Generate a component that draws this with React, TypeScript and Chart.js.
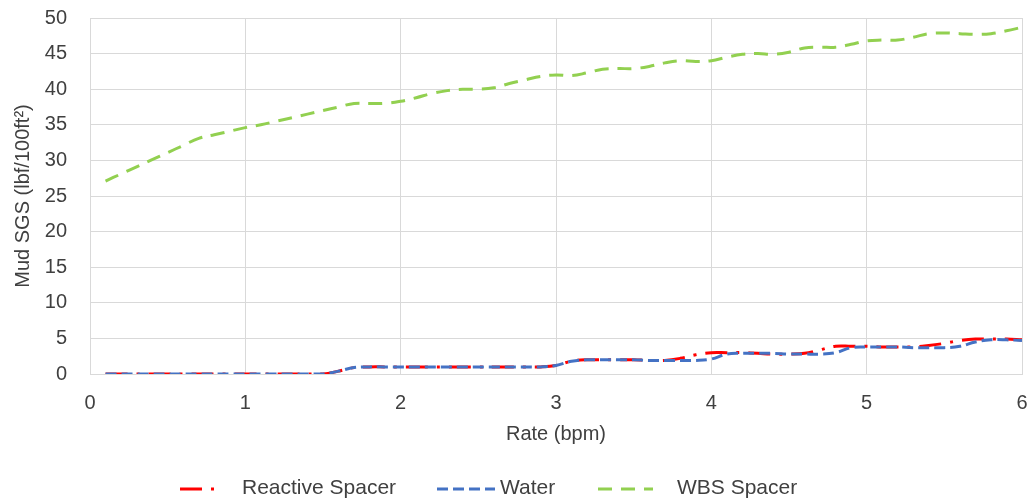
import { useEffect, useRef } from 'react';
import { Chart, registerables } from 'chart.js';

Chart.register(...registerables);

const rate = [
  0.1, 0.2, 0.3, 0.4, 0.5, 0.6, 0.7, 0.8, 0.9, 1.0,
  1.1, 1.2, 1.3, 1.4, 1.5, 1.6, 1.7, 1.8, 1.9, 2.0,
  2.1, 2.2, 2.3, 2.4, 2.5, 2.6, 2.7, 2.8, 2.9, 3.0,
  3.1, 3.2, 3.3, 3.4, 3.5, 3.6, 3.7, 3.8, 3.9, 4.0,
  4.1, 4.2, 4.3, 4.4, 4.5, 4.6, 4.7, 4.8, 4.9, 5.0,
  5.1, 5.2, 5.3, 5.4, 5.5, 5.6, 5.7, 5.8, 5.9, 6.0,
];

const reactiveSpacer = [
  0, 0, 0, 0, 0, 0, 0, 0, 0, 0,
  0, 0, 0, 0, 0, 0.4, 0.9, 1.0, 1.0, 1.0,
  1.0, 1.0, 1.0, 1.0, 1.0, 1.0, 1.0, 1.0, 1.0, 1.2,
  1.8, 2.0, 2.0, 2.0, 2.0, 1.9, 1.9, 2.2, 2.7, 3.0,
  3.0, 3.0, 2.9, 2.8, 2.8, 2.9, 3.4, 3.9, 3.9, 3.9,
  3.8, 3.8, 3.8, 4.0, 4.3, 4.7, 4.9, 4.9, 4.9, 4.8,
];

const water = [
  0, 0, 0, 0, 0, 0, 0, 0, 0, 0,
  0, 0, 0, 0, 0, 0.4, 0.9, 1.0, 1.0, 1.0,
  1.0, 1.0, 1.0, 1.0, 1.0, 1.0, 1.0, 1.0, 1.0, 1.2,
  1.8, 2.0, 2.0, 2.0, 2.0, 1.9, 1.9, 1.9, 1.9, 2.1,
  2.8, 2.9, 2.9, 2.9, 2.8, 2.8, 2.8, 3.0, 3.7, 3.8,
  3.8, 3.8, 3.7, 3.7, 3.7, 3.9, 4.5, 4.8, 4.8, 4.7,
];

const wbsSpacer = [
  27.1, 28.1, 29.1, 30.1, 31.1, 32.1, 33.1, 33.6, 34.1, 34.6,
  35.0, 35.5, 36.0, 36.5, 37.0, 37.5, 38.0, 38.0, 38.0, 38.3,
  38.8, 39.4, 39.8, 40.0, 40.0, 40.2, 40.8, 41.3, 41.8, 42.0,
  41.9, 42.3, 42.8, 42.9, 42.9, 43.2, 43.7, 44.0, 43.9, 44.0,
  44.5, 44.9, 45.0, 44.9, 45.2, 45.8, 45.9, 45.9, 46.3, 46.8,
  46.9, 46.9, 47.3, 47.8, 47.9, 47.8, 47.7, 47.8, 48.2, 48.7,
];

const seriesNames = ['Reactive Spacer', 'Water', 'WBS Spacer'];
const xTitle = 'Rate (bpm)';
const yTitle = 'Mud SGS (lbf/100ft\u00b2)';

const FONT = "'Liberation Sans', Arial, sans-serif";
const TEXT = '#404040';
const GRID = '#d9d9d9';

const toPoints = (ys: number[]) => rate.map((x, i) => ({ x, y: ys[i] }));

const excelLegend = {
  id: 'excelLegend',
  afterDraw(chart: any) {
    const ctx = chart.ctx;
    const slots = [
      { sx: 172, sw: 42, tx: 234 },
      { sx: 429, sw: 58, tx: 492 },
      { sx: 590, sw: 55, tx: 669 },
    ];
    const y = 480;
    ctx.save();
    chart.data.datasets.forEach((ds: any, i: number) => {
      const s = slots[i];
      ctx.beginPath();
      ctx.setLineDash(ds.borderDash || []);
      ctx.lineWidth = ds.borderWidth;
      ctx.strokeStyle = ds.borderColor;
      ctx.lineCap = 'butt';
      ctx.moveTo(s.sx, y + 1);
      ctx.lineTo(s.sx + s.sw, y + 1);
      ctx.stroke();
      ctx.setLineDash([]);
      ctx.fillStyle = TEXT;
      ctx.font = `21px ${FONT}`;
      ctx.textBaseline = 'middle';
      ctx.textAlign = 'left';
      ctx.fillText(ds.label, s.tx, y);
    });
    ctx.restore();
  },
};

export default function App() {
  const ref = useRef<HTMLCanvasElement | null>(null);

  useEffect(() => {
    if (!ref.current) return;
    const chart = new Chart(ref.current, {
      type: 'line',
      data: {
        datasets: [
          {
            label: seriesNames[0],
            data: toPoints(reactiveSpacer),
            borderColor: '#ff0000',
            borderWidth: 3,
            borderDash: [22, 9, 3, 9],
            pointRadius: 0,
            tension: 0.4,
            order: 1,
          },
          {
            label: seriesNames[1],
            data: toPoints(water),
            borderColor: '#4472c4',
            borderWidth: 3,
            borderDash: [11, 5],
            pointRadius: 0,
            tension: 0.4,
            order: 0,
          },
          {
            label: seriesNames[2],
            data: toPoints(wbsSpacer),
            borderColor: '#92d050',
            borderWidth: 3,
            borderDash: [14, 9],
            pointRadius: 0,
            tension: 0.4,
            order: 2,
          },
        ],
      },
      options: {
        animation: false,
        responsive: true,
        maintainAspectRatio: false,
        layout: { padding: { left: 0, right: 0, top: 10, bottom: 47 } },
        plugins: {
          legend: { display: false },
          tooltip: { enabled: false },
        },
        scales: {
          x: {
            type: 'linear',
            min: 0,
            max: 6,
            ticks: {
              stepSize: 1,
              color: TEXT,
              padding: 17,
              font: { family: FONT, size: 20 },
            },
            grid: { color: GRID, drawTicks: false },
            border: { color: GRID },
            title: {
              display: true,
              text: xTitle,
              color: TEXT,
              font: { family: FONT, size: 20 },
              padding: { top: 4, bottom: 8 },
            },
            afterFit: (scale: any) => {
              scale.height = 80;
              scale.paddingLeft = 6;
              scale.paddingRight = 6;
            },
          },
          y: {
            min: 0,
            max: 50,
            ticks: {
              stepSize: 5,
              color: TEXT,
              padding: 23,
              font: { family: FONT, size: 20, lineHeight: 1 },
            },
            grid: { color: GRID, drawTicks: false },
            border: { color: GRID },
            title: {
              display: true,
              text: yTitle,
              color: TEXT,
              font: { family: FONT, size: 20 },
              padding: { top: 3, bottom: 4 },
            },
            afterFit: (scale: any) => {
              scale.width = 82;
              scale.paddingTop = 0;
              scale.paddingBottom = 0;
            },
          },
        },
      },
      plugins: [excelLegend],
    });
    return () => chart.destroy();
  }, []);

  return (
    <div style={{ position: 'absolute', left: 8, top: 8, width: 1020, height: 493 }}>
      <canvas ref={ref} />
    </div>
  );
}
